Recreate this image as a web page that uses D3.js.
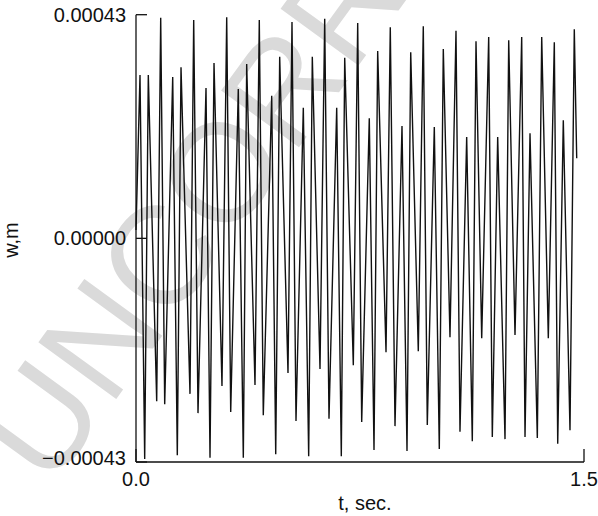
<!DOCTYPE html>
<html><head><meta charset="utf-8">
<script src="https://cdn.jsdelivr.net/npm/d3@7"></script>
<style>html,body{margin:0;padding:0;background:#fff;}svg{display:block;}</style>
</head><body>
<svg id="chart" width="598" height="516"></svg>
<script>
// time (s) of each turning point of the trace
const tValues = [0.0000,0.0134,0.0291,0.0412,0.0693,0.0827,0.0961,0.1229,0.1383,0.1507,
0.1808,0.1932,0.2076,0.2344,0.2478,0.2612,0.2879,0.3037,0.3171,0.3425,
0.3593,0.3706,0.3984,0.4128,0.4262,0.4544,0.4678,0.4811,0.5089,0.5223,
0.5357,0.5602,0.5782,0.5903,0.6161,0.6318,0.6462,0.6720,0.6874,0.6988,
0.7276,0.7423,0.7557,0.7811,0.7969,0.8092,0.8371,0.8514,0.8672,0.8906,
0.9074,0.9198,0.9452,0.9619,0.9753,0.9988,1.0155,1.0289,1.0513,1.0714,
1.0848,1.1072,1.1260,1.1384,1.1575,1.1809,1.1930,1.2110,1.2355,1.2479,
1.2690,1.2914,1.3025,1.3192,1.3437,1.3584,1.3805,1.4006,1.4120,1.4307,
1.4531,1.4675,1.4756];
// deflection w (units of 1e-5 m) at each turning point
const wValues = [1.6,31.4,-42.4,31.4,-31.3,42.4,-31.9,31.0,-41.7,32.9,
-29.9,42.0,-33.6,28.9,-42.2,33.7,-28.4,42.5,-33.4,28.7,
-42.2,33.5,-28.2,42.0,-34.0,27.4,-41.5,34.9,-25.9,41.6,
-35.1,25.1,-41.9,34.9,-25.1,42.2,-34.7,25.1,-41.9,34.7,
-24.4,41.4,-35.3,23.1,-40.7,36.0,-21.9,40.6,-36.1,21.6,
-40.9,35.8,-21.7,40.8,-35.9,21.4,-40.5,36.4,-19.0,39.9,
-37.2,19.5,-39.0,37.9,-19.2,38.7,-38.2,19.5,-38.6,38.1,
-18.6,38.7,-38.2,20.2,-38.4,38.7,-19.2,37.7,-39.5,22.7,
-36.9,40.2,15.4];
const xTicks = [0, 1.5];
const xTickLabels = ["0.0", "1.5"];
const yTicks = [-0.00043, 0, 0.00043];
const yTickLabels = ["\u22120.00043", "0.00000", "0.00043"];
const xTitle = "t, sec.";
const yTitle = "w,m";
const watermark = "UNCORRECTED PROOF";

const svg = d3.select("#chart");
const font = "'Liberation Sans', Arial, Helvetica, sans-serif";
const x = d3.scaleLinear().domain([0, 1.5]).range([136, 584]);
const y = d3.scaleLinear().domain([-0.00043, 0.00043]).range([462, 14.7]);

// watermark
svg.append("text")
  .attr("transform", "translate(50,490) rotate(-54)")
  .attr("font-family", font).attr("font-size", 140)
  .attr("fill", "#dadada")
  .text(watermark);

const data = tValues.map((t, i) => ({t, w: wValues[i] * 1e-5}));
const line = d3.line().x(d => x(d.t)).y(d => y(d.w));
svg.append("path").datum(data)
  .attr("d", line).attr("fill", "none")
  .attr("stroke", "#111").attr("stroke-width", 1.4)
  .attr("stroke-linejoin", "miter").attr("stroke-miterlimit", 6);

// axes
const g = svg.append("g").attr("stroke", "#111").attr("stroke-width", 1.3);
g.append("line").attr("x1", x(0)).attr("x2", x(0)).attr("y1", y(0.00043)).attr("y2", y(-0.00043));
g.append("line").attr("x1", x(0)).attr("x2", x(1.5)).attr("y1", y(-0.00043)).attr("y2", y(-0.00043));
yTicks.forEach(v => {
  g.append("line").attr("x1", x(0)).attr("x2", x(0) + 11).attr("y1", y(v)).attr("y2", y(v));
});
xTicks.forEach(v => {
  g.append("line").attr("x1", x(v)).attr("x2", x(v)).attr("y1", y(-0.00043)).attr("y2", y(-0.00043) - 13);
});

// tick labels
yTicks.forEach((v, i) => {
  svg.append("text").attr("x", 126).attr("y", y(v) + (v < 0 ? -4 : 0))
    .attr("dy", "0.35em").attr("text-anchor", "end")
    .attr("font-family", font).attr("font-size", 20).attr("fill", "#111")
    .text(yTickLabels[i]);
});
xTicks.forEach((v, i) => {
  svg.append("text").attr("x", x(v)).attr("y", 486)
    .attr("text-anchor", "middle")
    .attr("font-family", font).attr("font-size", 20).attr("fill", "#111")
    .text(xTickLabels[i]);
});
svg.append("text").attr("x", 365).attr("y", 510).attr("text-anchor", "middle")
  .attr("font-family", font).attr("font-size", 20).attr("fill", "#111").text(xTitle);
svg.append("text").attr("transform", "translate(18,240) rotate(-90)").attr("text-anchor", "middle")
  .attr("font-family", font).attr("font-size", 20).attr("fill", "#111").text(yTitle);
</script>
</body></html>
